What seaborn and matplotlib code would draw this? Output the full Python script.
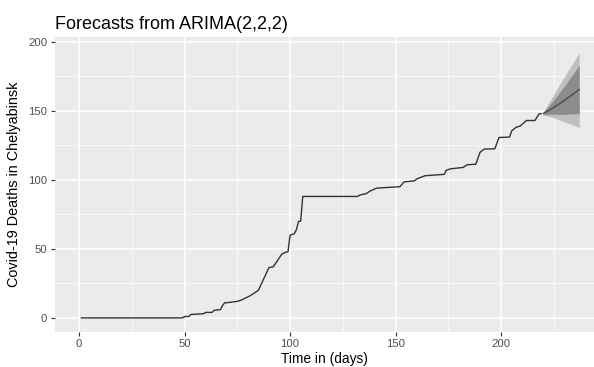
import numpy as np
import pandas as pd
import matplotlib
matplotlib.use('Agg')
import matplotlib.pyplot as plt
import seaborn as sns
from matplotlib.ticker import MultipleLocator

obs_day = [1, 49, 50, 52, 53, 59, 60, 63, 64, 67, 68, 69, 70, 75, 77, 81, 85, 88,
           90, 92, 96, 97, 99, 100, 102, 103, 104, 105, 106, 107, 132, 133, 136,
           138, 141, 146, 152, 154, 159, 160, 164, 173, 174, 176, 182, 184, 188,
           190, 192, 197, 199, 204, 205, 207, 209, 212, 216, 218, 219]
obs_deaths = [0, 0, 1, 1, 2.5, 3, 4, 4, 5.5, 6, 9, 11, 11, 12, 13, 16, 20, 30,
              36.5, 37, 46, 47, 48, 60, 61, 64, 70, 70, 88, 88, 88, 89, 90,
              92, 94, 94.5, 95, 98.5, 99.3, 100.7, 103, 104, 107, 108, 109, 111, 111.3,
              120, 122.3, 122.5, 130.7, 131, 135.5, 138, 139, 143, 143, 147.8, 148]

# forecast, ARIMA(2,2,2)
fc_day = [220, 225, 230, 237]
fc_mean = [148, 152.5, 157.5, 165.5]
lo80 = [147.5, 147.5, 147.5, 148]
hi80 = [149, 158, 168, 183]
lo95 = [147, 145, 142, 138]
hi95 = [149.5, 162, 175, 192]

sns.set_theme(style='darkgrid', rc={
    'axes.facecolor': '#EBEBEB',
    'grid.color': 'white',
    'axes.edgecolor': '#EBEBEB',
    'xtick.color': '#333333',
    'ytick.color': '#333333',
    'xtick.labelcolor': '#4D4D4D',
    'ytick.labelcolor': '#4D4D4D',
    'xtick.bottom': True,
    'ytick.left': True,
})
plt.rcParams['font.family'] = ['Liberation Sans', 'DejaVu Sans']

obs = pd.DataFrame({'day': obs_day, 'deaths': obs_deaths})
fc = pd.DataFrame({'day': fc_day, 'mean': fc_mean, 'lo80': lo80, 'hi80': hi80,
                   'lo95': lo95, 'hi95': hi95})

fig = plt.figure(figsize=(5.94, 3.67), dpi=100)
ax = fig.add_axes([0.0926, 0.0954, 0.9074, 0.8038])

ax.fill_between(fc['day'], fc['lo95'], fc['hi95'], color='#BFBFBF', lw=0, zorder=2)
ax.fill_between(fc['day'], fc['lo80'], fc['hi80'], color='#8C8C8C', lw=0, zorder=3)
sns.lineplot(data=obs, x='day', y='deaths', ax=ax, color='#333333', lw=1.0, zorder=4)
sns.lineplot(data=fc, x='day', y='mean', ax=ax, color='#4A4A4A', lw=1.0, zorder=5)

ax.set_xlim(-11.4, 244)
ax.set_ylim(-10.2, 203.5)
ax.xaxis.set_major_locator(MultipleLocator(50))
ax.yaxis.set_major_locator(MultipleLocator(50))
ax.xaxis.set_minor_locator(MultipleLocator(25))
ax.yaxis.set_minor_locator(MultipleLocator(25))
ax.grid(which='major', color='white', lw=1.1)
ax.grid(which='minor', color='white', lw=0.5)
ax.tick_params(which='major', length=3, width=0.8, labelsize=8.1)
ax.tick_params(axis='x', pad=2)
ax.tick_params(axis='y', pad=2.5)
ax.tick_params(which='minor', length=0)
for s in ax.spines.values():
    s.set_visible(False)

ax.set_xlabel('Time in (days)', fontsize=9.9, color='black', va='bottom')
ax.xaxis.set_label_coords(0.5, -0.116)
ax.set_ylabel('Covid-19 Deaths in Chelyabinsk', fontsize=10.4, color='black', labelpad=5)
ax.set_title('Forecasts from ARIMA(2,2,2)', fontsize=13, loc='left', color='black', pad=6)

fig.savefig('out.png', dpi=100)
